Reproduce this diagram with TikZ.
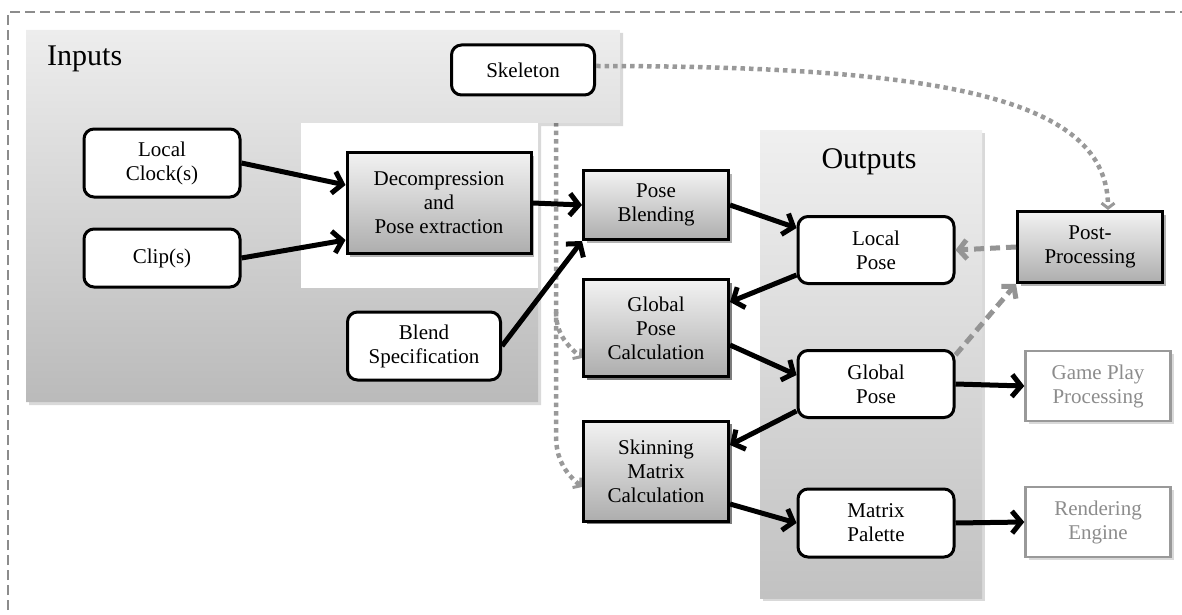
\documentclass[tikz,border=0pt]{standalone}
\usepackage{fontspec}
\setmainfont{Liberation Serif}
\usetikzlibrary{arrows.meta,shadows}
\begin{document}
\begin{tikzpicture}[x=1pt,y=-1pt,
  boxtext/.style={font=\fontsize{21}{24}\selectfont, align=center, inner sep=0pt},
  datanode/.style={boxtext, draw=black, line width=3pt, rounded corners=10pt, fill=white,
    minimum width=156pt, minimum height=67pt},
  procnode/.style={boxtext, draw=black, line width=3pt, top color=black!5, bottom color=black!32,
    drop shadow={shadow xshift=3pt, shadow yshift=-3pt, opacity=0.3, fill=black},
    minimum width=145pt},
  extnode/.style={boxtext, draw=black!40, line width=2.5pt, fill=white, text=black!45,
    drop shadow={shadow xshift=3pt, shadow yshift=-3pt, opacity=0.15, fill=black},
    minimum width=145pt, minimum height=70pt},
  paneltitle/.style={font=\fontsize{30}{32}\selectfont, inner sep=0pt},
  flow/.style={line width=5pt, -{Straight Barb[length=9pt,width=22pt]}},
  feedback/.style={line width=5pt, draw=black!42, dash pattern=on 10pt off 6pt,
    -{Straight Barb[length=8pt,width=19pt]}},
  skel/.style={line width=4.5pt, draw=black!40, dash pattern=on 4.5pt off 4pt,
    -{Straight Barb[length=5pt,width=13pt,line width=3pt]}},
]
\useasboundingbox (0,0) rectangle (1182,615);

% outer dashed frame
\draw[black!45, line width=1.5pt, dash pattern=on 10pt off 5pt] (8,640) -- (8,12) -- (1200,12);

% skeleton feed that runs down to the calculation stages (partly under the input panel)
\node[datanode, minimum width=143pt, minimum height=50pt] (Skel) at (523,70) {Skeleton};
\coordinate (trunk) at (556,0);
\coordinate (fork1) at (556,312);
\coordinate (fork2) at (556,436);

\node[procnode, minimum height=97pt] (GPC) at (656,328) {Global\\Pose\\Calculation};
\node[procnode, minimum height=100pt] (Skin) at (656,471) {Skinning\\Matrix\\Calculation};

\draw[skel] (Skel.south -| trunk) -- (fork2) to[out=-90,in=140] ([yshift=-16pt]Skin.west);
\draw[skel] (fork1) to[out=-90,in=140] ([yshift=-30pt]GPC.west);

% input panel
\path[top color=black!7, bottom color=black!27,
  drop shadow={shadow xshift=3pt, shadow yshift=-3pt, opacity=0.15, fill=black}]
  (26,30) -- (620,30) -- (620,123) -- (538,123) -- (538,402) -- (26,402) -- cycle;
\fill[white] (301,123) rectangle (538,288);
\node[paneltitle, anchor=base west] (inTitle) at (47,66) {Inputs};

% output panel
\path[top color=black!6, bottom color=black!24,
  drop shadow={shadow xshift=3pt, shadow yshift=-3pt, opacity=0.15, fill=black}]
  (760,130) rectangle (982,598);
\node[paneltitle, anchor=base] (outTitle) at (869,168) {Outputs};

% nodes
\node[datanode, minimum width=143pt, minimum height=50pt] (Skel) at (523,70) {Skeleton};
\node[datanode, minimum height=68pt] (Clock) at (162,163) {Local\\Clock(s)};
\node[datanode, minimum height=58pt] (Clip) at (162,258) {Clip(s)};
\node[procnode, minimum width=184pt, minimum height=101pt] (Decomp) at (439,203) {Decompression\\and\\Pose extraction};
\node[datanode, minimum width=153pt, minimum height=68pt] (Blend) at (424,346) {Blend\\Specification};
\node[procnode, minimum height=69pt] (PoseB) at (656,205) {Pose\\Blending};
\node[procnode, minimum height=97pt] (GPC) at (656,328) {Global\\Pose\\Calculation};
\node[procnode, minimum height=100pt] (Skin) at (656,471) {Skinning\\Matrix\\Calculation};
\node[datanode] (LPose) at (876,250) {Local\\Pose};
\node[datanode] (GPose) at (876,384) {Global\\Pose};
\node[datanode, minimum height=68pt] (MPal) at (876,523) {Matrix\\Palette};
\node[procnode, minimum height=71pt] (Post) at (1090,247) {Post-\\Processing};
\node[extnode] (Game) at (1098,386) {Game Play\\Processing};
\node[extnode] (Render) at (1098,522) {Rendering\\Engine};

% data flow
\draw[flow] (Clock.east) -- ([yshift=18pt]Decomp.west);
\draw[flow] (Clip.east) -- ([yshift=-37pt]Decomp.west);
\draw[flow] (Decomp.east) -- (PoseB.west);
\draw[flow] (Blend.east) -- (PoseB.south west);
\draw[flow] (PoseB.east) -- ([yshift=22pt]LPose.west);
\draw[flow] ([yshift=10pt]LPose.south west) -- ([yshift=26pt]GPC.east);
\draw[flow] ([yshift=-17pt]GPC.east) -- ([yshift=9pt]GPose.west);
\draw[flow] ([yshift=8pt]GPose.south west) -- ([yshift=26pt]Skin.east);
\draw[flow] ([yshift=-33pt]Skin.east) -- (MPal.west);
\draw[flow] (GPose.east) -- (Game.west);
\draw[flow] (MPal.east) -- (Render.west);

% post-processing loop
\draw[feedback] (Post.west) -- (LPose.east);
\draw[feedback] ([yshift=-6pt]GPose.north east) -- (Post.south west);
\draw[skel] ([yshift=4pt]Skel.east) .. controls (950,66) and ([xshift=18pt]Post.north |- 0,100) .. ([xshift=18pt]Post.north);
\end{tikzpicture}
\end{document}
